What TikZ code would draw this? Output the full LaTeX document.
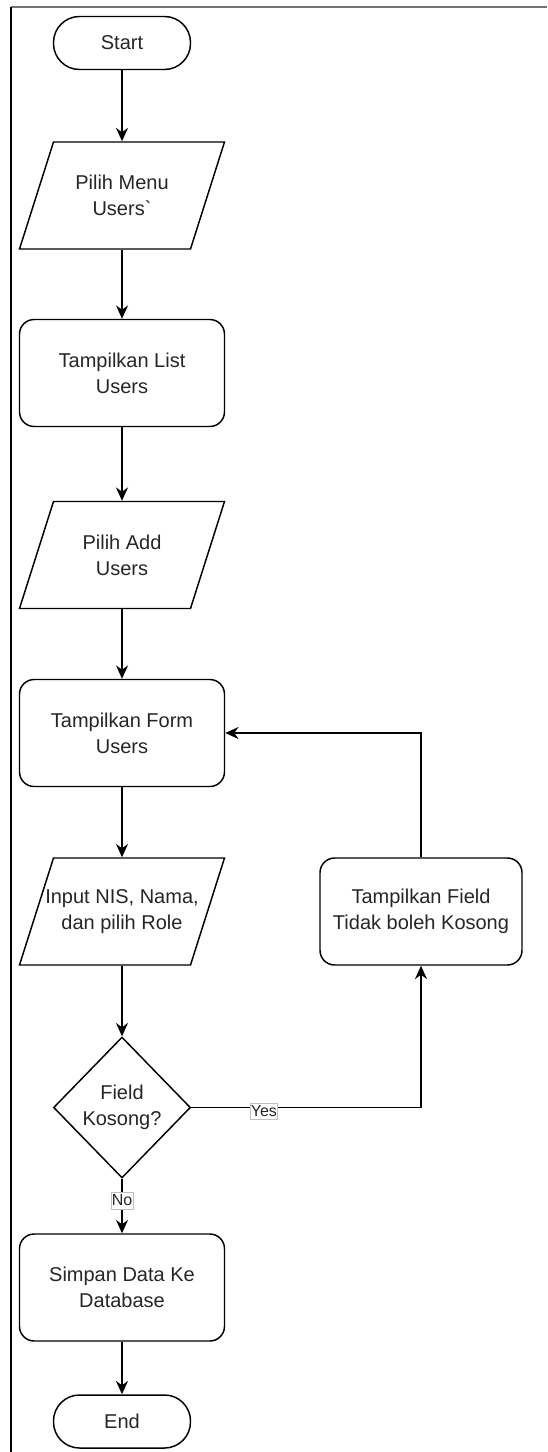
\documentclass[tikz,border=0pt]{standalone}
\usepackage{fontspec}
\setmainfont{Liberation Sans}
\newfontfamily\plainfont{Liberation Sans}
\usetikzlibrary{shapes.geometric,arrows.meta}
\begin{document}
\begin{tikzpicture}[x=0.75pt,y=-0.75pt,
 base/.style={draw=black,line width=1.1pt,fill=white,font=\fontsize{15}{19.5}\selectfont,align=center,text=black!85,inner sep=0pt},
 term/.style={base,rectangle,rounded corners=19.5pt,minimum width=102.75pt,minimum height=39.75pt},
 proc/.style={base,rectangle,rounded corners=11pt,minimum width=153.75pt,minimum height=80.25pt},
 io/.style={base,draw=none,fill=none,rectangle,minimum width=128.25pt,minimum height=80.25pt},
 paraline/.style={draw=black,line width=1.1pt,fill=white,line join=miter},
 dec/.style={base,diamond,minimum width=102.75pt,minimum height=105.75pt},
 arr/.style={line width=1.1pt,-{Stealth[length=10pt,width=9pt]}},
 lbl/.style={fill=white,draw=black!25,line width=0.4pt,font=\fontsize{12}{13}\selectfont,text=black!85,inner xsep=0.6pt,inner ysep=2pt}
]
\newcommand\iobox[3]{%
  \coordinate (#1c) at (#2);
  \draw[paraline] (#1c) ++(-102.5,53.5) -- ++(171,0) -- ++(34,-107) -- ++(-171,0) -- cycle;
  \node[io] (#1) at (#1c) {#3};}
\useasboundingbox (0,0) rectangle (547,1452);
% frame
\coordinate (fa) at (11,7);
\coordinate (fb) at (547,7);
\coordinate (fc) at (11,1452);
\draw[black!55,line width=1.5pt] (fa) -- (fb);
\draw[black,line width=0.8pt] (fa) -- (fc);

\node[term] (start) at (122,43) {Start};
\iobox{pm}{122,195.5}{Pilih Menu\\{\plainfont Users`}}
\node[proc] (tl) at (122,373) {Tampilkan List\\Users};
\iobox{pa}{122,555}{Pilih Add\\Users}
\node[proc] (tf) at (122,733) {Tampilkan Form\\Users};
\iobox{inp}{122,911.5}{Input NIS, Nama,\\dan pilih Role}
\node[proc,minimum width=151.5pt] (tfk) at (421,911.5) {Tampilkan Field\\Tidak boleh Kosong};
\node[dec] (dec) at (122,1107.5) {Field\\Kosong?};
\node[proc] (sim) at (122,1287.5) {Simpan Data Ke\\Database};
\node[term] (end) at (122,1421.5) {End};

\draw[arr] (start) -- (pm);
\draw[arr] (pm) -- (tl);
\draw[arr] (tl) -- (pa);
\draw[arr] (pa) -- (tf);
\draw[arr] (tf) -- (inp);
\draw[arr] (inp) -- (dec);
\draw[arr] (dec.east) -| node[lbl,pos=0.158,yshift=-3pt]{Yes} (tfk.south);
\draw[arr] (tfk.north) |- (tf.east);
\draw[arr] (dec.south) -- node[lbl,pos=0.4]{No} (sim);
\draw[arr] (sim) -- (end);
\end{tikzpicture}
\end{document}
